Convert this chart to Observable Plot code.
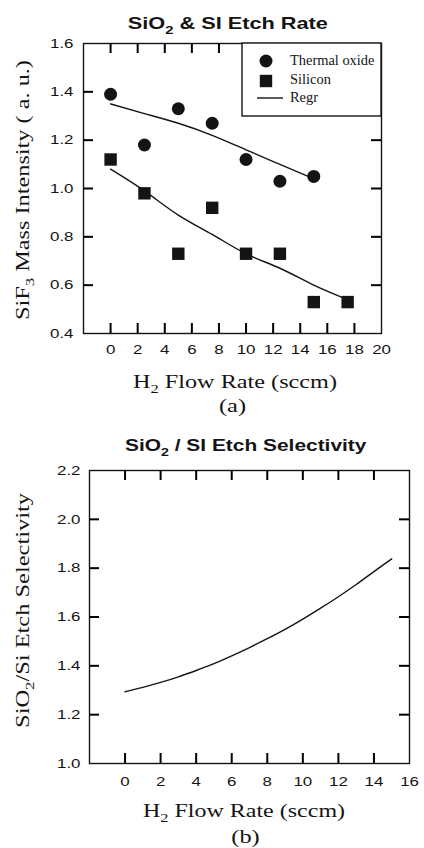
<!DOCTYPE html>
<html><head><meta charset="utf-8">
<script src="https://cdn.jsdelivr.net/npm/d3@7"></script>
<script src="https://cdn.jsdelivr.net/npm/@observablehq/plot@0.6"></script>
<style>
html,body{margin:0;padding:0;background:#fff;}
body{width:424px;height:848px;overflow:hidden;}
svg{display:block;}
</style>
</head><body>
<div id="a"></div><div id="b"></div>
<script>
// ---------- data ----------
const flowA = [0, 2.5, 5, 7.5, 10, 12.5, 15, 17.5];
const oxide = [1.39, 1.18, 1.33, 1.27, 1.12, 1.03, 1.05];
const silicon = [1.12, 0.98, 0.73, 0.92, 0.73, 0.73, 0.53, 0.53];
const oxideRegr = [1.35, 1.31, 1.27, 1.22, 1.16, 1.10, 1.04];
const siliconRegr = [1.08, 0.99, 0.89, 0.81, 0.73, 0.67, 0.60, 0.54];
const xTicksA = [0, 2, 4, 6, 8, 10, 12, 14, 16, 18, 20];
const yTicksA = [0.4, 0.6, 0.8, 1.0, 1.2, 1.4, 1.6];

const flowB = [0, 1, 2, 3, 4, 5, 6, 7, 8, 9, 10, 11, 12, 13, 14, 15];
const selectivity = [1.294, 1.312, 1.332, 1.355, 1.381, 1.409, 1.441, 1.475, 1.511, 1.549, 1.591, 1.636, 1.683, 1.733, 1.786, 1.838];
const xTicksB = [0, 2, 4, 6, 8, 10, 12, 14, 16];
const yTicksB = [1.0, 1.2, 1.4, 1.6, 1.8, 2.0, 2.2];

const titleA = "SiO_2 & SI Etch Rate";
const titleB = "SiO_2 / SI Etch Selectivity";
const yLabelA = "SiF_3 Mass Intensity ( a. u.)";
const yLabelB = "SiO_2/Si Etch Selectivity";
const xLabel = "H_2 Flow Rate (sccm)";
const captionA = "(a)";
const captionB = "(b)";
const legendLabels = ["Thermal oxide", "Silicon", "Regr"];

// ---------- style ----------
const SANS = "'Liberation Sans', Arial, sans-serif";
const SERIF = "'Liberation Serif', 'Times New Roman', serif";
const INK = "#141414";
const W = 424;
const STRETCH = 1.25;
const TICK = 10;

// subscripts + horizontal stretch of the (wide) reference lettering
function finish(svg) {
  const ns = "http://www.w3.org/2000/svg";
  svg.querySelectorAll("text").forEach(el => {
    const s = el.textContent;
    if (s.includes("_")) {
      const F = parseFloat(getComputedStyle(el).fontSize) || 16;
      el.textContent = "";
      const parts = s.split(/_(.)/);
      let shifted = false;
      parts.forEach((p, i) => {
        if (!p) return;
        const t = document.createElementNS(ns, "tspan");
        t.textContent = p;
        if (i % 2 === 1) {
          t.setAttribute("font-size", (F * 0.68).toFixed(1));
          t.setAttribute("dy", (F * 0.28).toFixed(1));
          shifted = true;
        } else if (shifted) {
          t.setAttribute("dy", (-F * 0.28).toFixed(1));
          shifted = false;
        }
        el.appendChild(t);
      });
    }
    const k = el.closest("g.legend") ? 1.03 : STRETCH;
    const tr = el.getAttribute("transform") || "";
    el.setAttribute("transform", tr + ` scale(${k},1)`);
  });
}

// fit a text's extent along its own direction to [a, b] (page px)
function fitText(svg, raw, a, b, vertical) {
  const want = raw.replace(/_/g, "");
  const el = [...svg.querySelectorAll("text")].find(t => t.textContent === want);
  if (!el) return;
  if (!el.dataset.base) el.dataset.base = el.getAttribute("transform");
  const base = el.dataset.base;
  el.setAttribute("transform", base);
  let r = el.getBoundingClientRect();
  const len = vertical ? r.height : r.width;
  if (!(len > 0)) return;
  const k = STRETCH * (b - a) / len;
  const tr = base.replace(/scale\([^)]*\)$/, `scale(${k.toFixed(4)},1)`);
  el.setAttribute("transform", tr);
  r = el.getBoundingClientRect();
  const c = vertical ? (r.top + r.bottom) / 2 : (r.left + r.right) / 2;
  const sh = (a + b) / 2 - c;
  el.setAttribute("transform", (vertical ? `translate(0,${sh.toFixed(2)}) ` : `translate(${sh.toFixed(2)},0) `) + tr);
}

// inward frame ticks on all four sides
function frameTickMarks(xs, ys, fw, fh) {
  const o = {stroke: "#000", strokeWidth: 2};
  return [
    Plot.tickX(xs, {x: d => d, insetTop: fh - TICK, ...o}),
    Plot.tickX(xs, {x: d => d, insetBottom: fh - TICK, ...o}),
    Plot.tickY(ys, {y: d => d, insetRight: fw - TICK, ...o}),
    Plot.tickY(ys, {y: d => d, insetLeft: fw - TICK, ...o})
  ];
}

// ---------- chart A ----------
const HA = 425, LA = 83, RA = 381, TA = 43, BA = 333;
const xDomA = [-2, 20], yDomA = [0.4, 1.6];
const innerXA = xTicksA.filter(d => d > xDomA[0] && d < xDomA[1]);
const innerYA = yTicksA.filter(d => d > yDomA[0] && d < yDomA[1]);

const plotA = Plot.plot({
  width: W, height: HA,
  marginLeft: LA, marginRight: W - RA, marginTop: TA, marginBottom: HA - BA,
  x: {domain: xDomA},
  y: {domain: yDomA},
  style: {fontFamily: SANS, fontSize: "13.5px", color: INK, background: "white", overflow: "visible"},
  marks: [
    Plot.axisX({ticks: xTicksA, tickSize: 0, tickPadding: 11, label: null, fontSize: 13.5}),
    Plot.axisY({ticks: yTicksA, tickSize: 0, tickPadding: 10, label: null, tickFormat: d3.format(".1f"), fontSize: 13.5}),
    Plot.frame({stroke: INK, strokeWidth: 1.4}),
    ...frameTickMarks(innerXA, innerYA, RA - LA, BA - TA),
    Plot.line(oxideRegr, {x: (d, i) => flowA[i], y: d => d, curve: "natural", stroke: INK, strokeWidth: 1.4}),
    Plot.line(siliconRegr, {x: (d, i) => flowA[i], y: d => d, curve: "natural", stroke: INK, strokeWidth: 1.4}),
    Plot.dot(oxide, {x: (d, i) => flowA[i], y: d => d, r: 6.5, fill: INK, stroke: "none"}),
    Plot.dot(silicon, {x: (d, i) => flowA[i], y: d => d, r: 7, symbol: "square", fill: INK, stroke: "none"}),
    Plot.text([titleA], {text: d => d, frameAnchor: "top", dy: -26, fontFamily: SANS, fontWeight: "bold", fontSize: 16.5, fill: INK}),
    Plot.text([yLabelA], {text: d => d, frameAnchor: "left", rotate: -90, textAnchor: "middle", lineAnchor: "middle", dx: -61, fontFamily: SERIF, fontSize: 19.5, fill: INK}),
    Plot.text([xLabel], {text: d => d, frameAnchor: "bottom", lineAnchor: "middle", dy: 48, fontFamily: SERIF, fontSize: 19.5, fill: INK}),
    Plot.text([captionA], {text: d => d, frameAnchor: "bottom", lineAnchor: "middle", dy: 72, fontFamily: SERIF, fontSize: 19.5, fill: INK})
  ]
});
document.getElementById("a").appendChild(plotA);
// legend for chart A
{
  const g = d3.select(plotA).append("g").attr("class", "legend").attr("font-family", SERIF).attr("font-size", 14)
    .attr("fill", INK).attr("text-anchor", "start");
  g.append("rect").attr("x", 242).attr("y", TA).attr("width", RA - 242).attr("height", 73)
    .attr("fill", "white").attr("stroke", INK).attr("stroke-width", 1.4);
  g.append("circle").attr("cx", 266).attr("cy", 61).attr("r", 6.5).attr("fill", INK);
  g.append("rect").attr("x", 266 - 6.2).attr("y", 81 - 6.2).attr("width", 12.4).attr("height", 12.4).attr("fill", INK);
  g.append("line").attr("x1", 257).attr("x2", 283).attr("y1", 98).attr("y2", 98).attr("stroke", INK).attr("stroke-width", 1.4);
  const ys = [65, 84, 102];
  legendLabels.forEach((t, i) => g.append("text").attr("transform", `translate(290,${ys[i]})`).text(t));
}
finish(plotA);

// ---------- chart B ----------
const HB = 423, LB = 89, RB = 409, TB = 45, BB = 338;
const xDomB = [-2, 16], yDomB = [1.0, 2.2];
const innerXB = xTicksB.filter(d => d > xDomB[0] && d < xDomB[1]);
const innerYB = yTicksB.filter(d => d > yDomB[0] && d < yDomB[1]);

const plotB = Plot.plot({
  width: W, height: HB,
  marginLeft: LB, marginRight: W - RB, marginTop: TB, marginBottom: HB - BB,
  x: {domain: xDomB},
  y: {domain: yDomB},
  style: {fontFamily: SANS, fontSize: "13.5px", color: INK, background: "white", overflow: "visible"},
  marks: [
    Plot.axisX({ticks: xTicksB, tickSize: 0, tickPadding: 13, label: null, fontSize: 13.5}),
    Plot.axisY({ticks: yTicksB, tickSize: 0, tickPadding: 9, label: null, tickFormat: d3.format(".1f"), fontSize: 13.5}),
    Plot.frame({stroke: INK, strokeWidth: 1.4}),
    ...frameTickMarks(innerXB, innerYB, RB - LB, BB - TB),
    Plot.line(selectivity, {x: (d, i) => flowB[i], y: d => d, curve: "natural", stroke: INK, strokeWidth: 1.4}),
    Plot.text([titleB], {text: d => d, frameAnchor: "top", dy: -31, fontFamily: SANS, fontWeight: "bold", fontSize: 16.5, fill: INK}),
    Plot.text([yLabelB], {text: d => d, frameAnchor: "left", rotate: -90, textAnchor: "middle", lineAnchor: "middle", dx: -67, fontFamily: SERIF, fontSize: 19.5, fill: INK}),
    Plot.text([xLabel], {text: d => d, frameAnchor: "bottom", lineAnchor: "middle", dy: 47, fontFamily: SERIF, fontSize: 19.5, fill: INK}),
    Plot.text([captionB], {text: d => d, frameAnchor: "bottom", lineAnchor: "middle", dx: -4, dy: 73, fontFamily: SERIF, fontSize: 19.5, fill: INK})
  ]
});
document.getElementById("b").appendChild(plotB);
finish(plotB);

function fitAll() {
  fitText(plotA, titleA, 128, 328, false);
  fitText(plotA, xLabel, 133, 337, false);
  fitText(plotA, yLabelA, 60, 320, true);
  fitText(plotB, titleB, 125, 367, false);
  fitText(plotB, xLabel, 143, 345, false);
  fitText(plotB, yLabelB, 493, 728, true);
}
fitAll();
if (document.fonts && document.fonts.ready) document.fonts.ready.then(fitAll);
window.addEventListener("load", fitAll);
</script>
</body></html>
